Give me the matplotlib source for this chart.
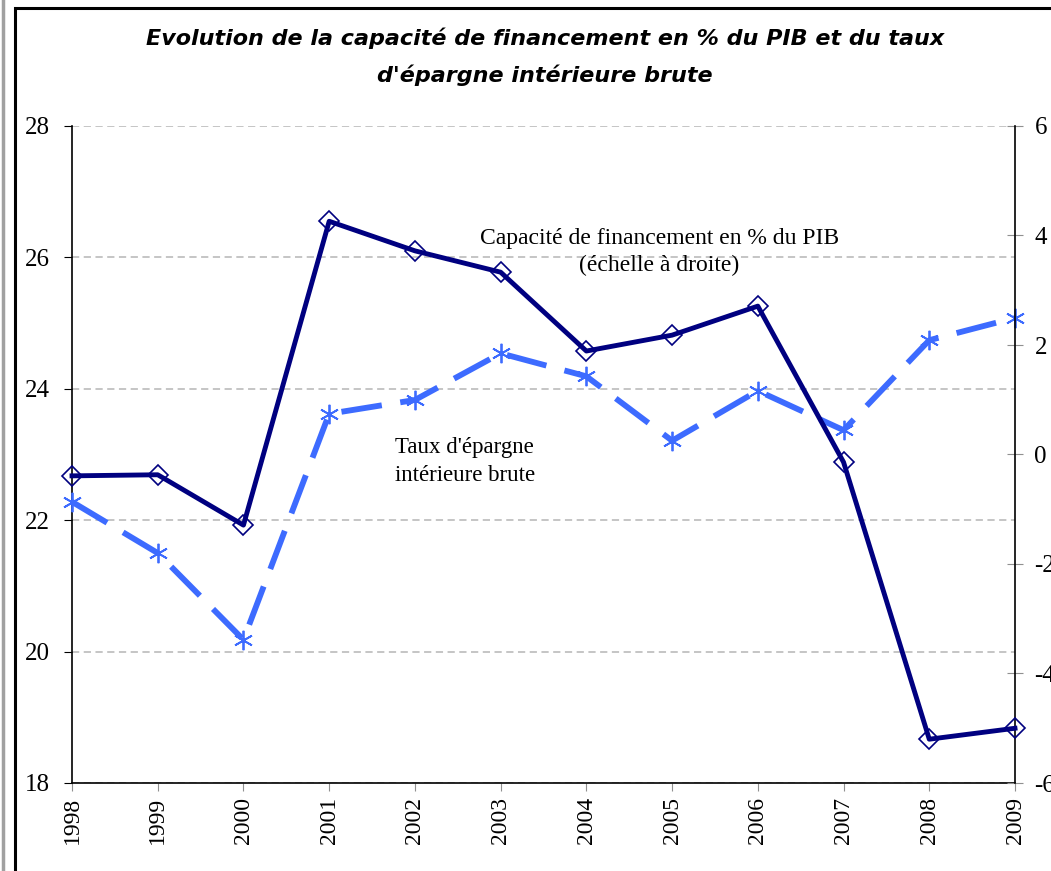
import numpy as np
import matplotlib.pyplot as plt
from matplotlib.patches import Rectangle
from matplotlib.lines import Line2D

# Data
years = ['1998', '1999', '2000', '2001', '2002', '2003',
         '2004', '2005', '2006', '2007', '2008', '2009']
taux_epargne = [22.28, 21.50, 20.18, 23.62, 23.83, 24.54,
                24.19, 23.21, 23.97, 23.37, 24.74, 25.08]
capacite_fin = [-0.39, -0.37, -1.29, 4.26, 3.72, 3.33,
                1.89, 2.18, 2.71, -0.14, -5.20, -5.00]

left_ticks = [18, 20, 22, 24, 26, 28]
right_ticks = [-6, -4, -2, 0, 2, 4, 6]

plt.rcParams['font.family'] = ['Liberation Serif', 'DejaVu Serif']

fig = plt.figure(figsize=(10.51, 8.71), dpi=100)

# outer frame like the spreadsheet chart border
fig.patches.append(Rectangle((15 / 1051, -0.1), 1.2, 1 - 8 / 871 + 0.1,
                             transform=fig.transFigure, fill=False,
                             edgecolor='black', linewidth=2.2))
fig.lines.append(Line2D([3 / 1051, 3 / 1051], [0, 1], transform=fig.transFigure,
                        color='#a0a0a0', linewidth=2.5))

ax = fig.add_axes([72 / 1051, 1 - 783 / 871, (1015 - 72) / 1051, (783 - 126) / 871])
x = np.arange(len(years))

ax.set_xlim(0, len(years) - 1)
ax.set_ylim(18, 28)
ax.set_yticks(left_ticks)
ax.set_yticklabels([str(t) for t in left_ticks], fontsize=18)
ax.yaxis.grid(True, color='#c0c0c0', linestyle=(0, (4, 2.5)), linewidth=1.3)
ax.set_axisbelow(True)
ax.set_xticks(x)
ax.set_xticklabels(years, rotation=90, fontsize=17)
ax.tick_params(axis='x', length=6, color='#909090', pad=4)
ax.tick_params(axis='y', length=6, direction='out', pad=10)
for s in ['top', 'right']:
    ax.spines[s].set_visible(False)
ax.spines['left'].set_linewidth(1.2)
ax.spines['bottom'].set_linewidth(1.2)

ax.plot(x, taux_epargne, color='#3d6bff', linewidth=4.2, linestyle=(0, (7, 3.2)),
        marker=(6, 2, 0), markersize=14, markeredgewidth=1.3, clip_on=False, zorder=3)

ax2 = ax.twinx()
ax2.set_ylim(-6, 6)
ax2.set_yticks(right_ticks)
ax2.set_yticklabels([str(t) for t in right_ticks], fontsize=18)
ax2.tick_params(axis='y', length=12, direction='inout', color='#909090', pad=8)
for s in ['top', 'left', 'bottom']:
    ax2.spines[s].set_visible(False)
ax2.spines['right'].set_linewidth(1.2)

ax2.plot(x, capacite_fin, color='#000080', linewidth=3.5,
         marker='D', markersize=10, fillstyle='none', markeredgecolor='#000080',
         markeredgewidth=1.2, clip_on=False, zorder=4)

ax2.text(6.85, 3.95, 'Capacité de financement en % du PIB', ha='center',
         va='center', fontsize=17)
ax2.text(6.85, 3.45, '(échelle à droite)', ha='center', va='center', fontsize=17)
ax.text(4.58, 23.1, "Taux d'épargne", ha='center', va='center', fontsize=16.5)
ax.text(4.58, 22.68, 'intérieure brute', ha='center', va='center', fontsize=16.5)

fig.text(545 / 1051, 1 - 38 / 871,
         "Evolution de la capacité de financement en % du PIB et du taux",
         ha='center', va='center', fontsize=16, fontweight='bold', fontstyle='italic',
         family=['DejaVu Sans'])
fig.text(545 / 1051, 1 - 75 / 871, "d'épargne intérieure brute",
         ha='center', va='center', fontsize=16, fontweight='bold', fontstyle='italic',
         family=['DejaVu Sans'])

fig.savefig('out.png', dpi=100)
